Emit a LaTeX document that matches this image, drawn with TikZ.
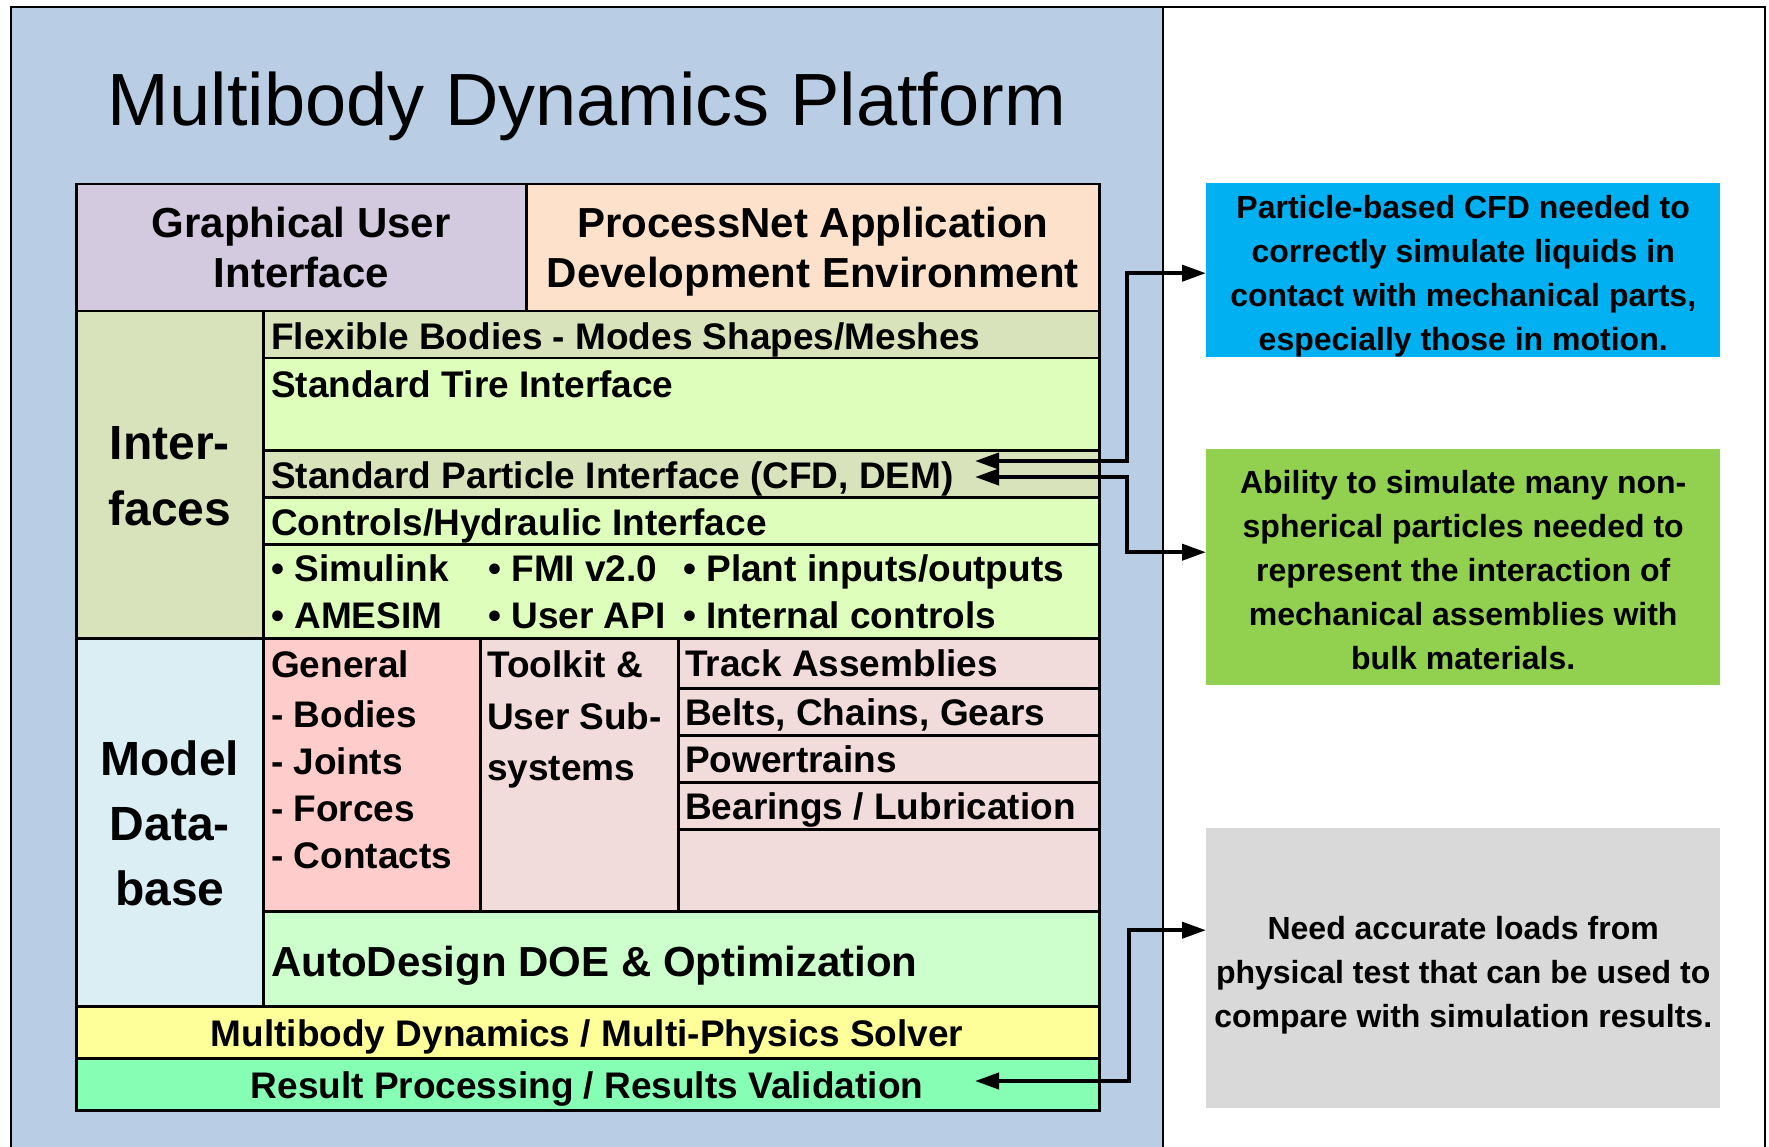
\documentclass[tikz,border=0pt]{standalone}
\usepackage{fontspec}
\setmainfont{Liberation Sans}
\usetikzlibrary{arrows.meta,calc}
\definecolor{panel}{HTML}{B9CDE5}
\definecolor{guic}{HTML}{D3CADF}
\definecolor{pnc}{HTML}{FDE1CA}
\definecolor{olive}{HTML}{D8E3BC}
\definecolor{lime}{HTML}{DDFFBB}
\definecolor{dbblue}{HTML}{DBEEF4}
\definecolor{pinkc}{HTML}{FFCCCC}
\definecolor{rose}{HTML}{F2DCDB}
\definecolor{mint}{HTML}{CCFFCC}
\definecolor{yel}{HTML}{FFFF99}
\definecolor{seag}{HTML}{86FFB4}
\definecolor{cyanb}{HTML}{00B0F0}
\definecolor{greenb}{HTML}{92D050}
\definecolor{grayb}{HTML}{D9D9D9}
\tikzset{
  cell/.style={draw=black, line width=2.5pt, inner sep=0pt, anchor=north west},
  note/.style={inner sep=0pt, anchor=north west},
  notetext/.style={inner sep=0pt, align=center, font=\bfseries\fontsize{32}{44}\selectfont},
  rowtxt/.style={inner sep=0pt, anchor=base west, font=\bfseries\fontsize{37}{44}\selectfont},
  rowtxtc/.style={inner sep=0pt, anchor=base, font=\bfseries\fontsize{37}{44}\selectfont},
  conn/.style={line width=4pt, {Triangle[length=24pt,width=16pt]}-{Triangle[length=24pt,width=16pt]}},
}
\begin{document}
\begin{tikzpicture}[x=1pt,y=-1pt]
\useasboundingbox (0,0) rectangle (1769,1147);
\clip (0,0) rectangle (1769,1147);
\fill[white] (0,0) rectangle (1769,1147);
% outer frame and blue panel
\fill[panel] (11,7) rectangle (1163,1180);
\draw[line width=2pt] (1163,7) -- (1163,1180);
\draw[line width=2pt] (11,7) rectangle (1765,1180);
% title
\node[inner sep=0pt, anchor=base, font=\fontsize{74}{80}\selectfont] (title) at (587,126) {Multibody Dynamics Platform};
% header row
\node[cell, fill=guic, minimum width=450pt, minimum height=127pt] (gui) at (75,183) {};
\node[cell, fill=pnc, minimum width=573pt, minimum height=127pt] (pn) at (525,183) {};
\node[inner sep=0pt, align=center, font=\bfseries\fontsize{42}{50}\selectfont] (guit) at (gui.center) {Graphical User\\Interface};
\node[inner sep=0pt, align=center, font=\bfseries\fontsize{42}{50}\selectfont] (pnt) at ([yshift=-4pt]pn.center) {ProcessNet Application\\Development Environment};
% interfaces
\node[cell, fill=olive, minimum width=187pt, minimum height=327pt] (ifl) at (75,310) {};
\node[inner sep=0pt, align=center, font=\bfseries\fontsize{48}{66}\selectfont] (iflt) at ([yshift=-1pt]ifl.center) {Inter-\\faces};
\node[cell, fill=olive, minimum width=836pt, minimum height=47pt] (flex) at (262,310) {};
\node[cell, fill=lime, minimum width=836pt, minimum height=92pt] (tire) at (262,357) {};
\node[cell, fill=olive, minimum width=836pt, minimum height=47pt] (part) at (262,449) {};
\node[cell, fill=lime, minimum width=836pt, minimum height=47pt] (ctrl) at (262,496) {};
\node[cell, fill=lime, minimum width=836pt, minimum height=94pt] (bul) at (262,543) {};
\node[rowtxt] (flext) at (271,349) {Flexible Bodies - Modes Shapes/Meshes};
\node[rowtxt] (tiret) at (271,397) {Standard Tire Interface};
\node[rowtxt] (partt) at (271,488) {Standard Particle Interface (CFD, DEM)};
\node[rowtxt] (ctrlt) at (271,535) {Controls/Hydraulic Interface};
\node[rowtxt] (b1) at (271,581) {• Simulink};
\node[rowtxt] (b2) at (271,628) {• AMESIM};
\node[rowtxt] (b3) at (488,581) {• FMI v2.0};
\node[rowtxt] (b4) at (488,628) {• User API};
\node[rowtxt] (b5) at (683,581) {• Plant inputs/outputs};
\node[rowtxt] (b6) at (683,628) {• Internal controls};
% model database
\node[cell, fill=dbblue, minimum width=187pt, minimum height=368pt] (mdl) at (75,637) {};
\node[inner sep=0pt, align=center, font=\bfseries\fontsize{48}{65}\selectfont] (mdlt) at ([yshift=-1pt]mdl.center) {Model\\Data-\\base};
\node[cell, fill=pinkc, minimum width=217pt, minimum height=273pt] (gen) at (262,637) {};
\node[cell, fill=rose, minimum width=198pt, minimum height=273pt] (tool) at (479,637) {};
\node[cell, fill=rose, minimum width=421pt, minimum height=50pt] (track) at (677,637) {};
\node[cell, fill=rose, minimum width=421pt, minimum height=47pt] (belts) at (677,687) {};
\node[cell, fill=rose, minimum width=421pt, minimum height=47pt] (power) at (677,734) {};
\node[cell, fill=rose, minimum width=421pt, minimum height=47pt] (bear) at (677,781) {};
\node[cell, fill=rose, minimum width=421pt, minimum height=82pt] (empty) at (677,828) {};
\node[cell, fill=mint, minimum width=836pt, minimum height=95pt] (auto) at (262,910) {};
\foreach \t/\y [count=\i] in {General/677, - Bodies/727, - Joints/774, - Forces/821, - Contacts/868}
  \node[rowtxt] (g\i) at (271,\y) {\t};
\foreach \t/\y [count=\i] in {Toolkit \&/677, User Sub-/729, systems/780}
  \node[rowtxt] (k\i) at (487,\y) {\t};
\node[rowtxt] (trackt) at (685,676) {Track Assemblies};
\node[rowtxt] (beltst) at (685,725) {Belts, Chains, Gears};
\node[rowtxt] (powert) at (685,772) {Powertrains};
\node[rowtxt] (beart) at (685,819) {Bearings / Lubrication};
\node[inner sep=0pt, anchor=base west, font=\bfseries\fontsize{42}{50}\selectfont] (autot) at (271,976) {AutoDesign DOE \& Optimization};
% solver and results
\node[cell, fill=yel, minimum width=1023pt, minimum height=52pt] (solver) at (75,1005) {};
\node[cell, fill=seag, minimum width=1023pt, minimum height=52pt] (result) at (75,1057) {};
\node[rowtxtc] (solvert) at (587,1046) {Multibody Dynamics / Multi-Physics Solver};
\node[rowtxtc] (resultt) at (587,1098) {Result Processing / Results Validation};
% right notes
\node[note, fill=cyanb, minimum width=514pt, minimum height=174pt] (cyan) at (1206,183) {};
\node[notetext] (cyant) at ([yshift=-6pt]cyan.center) {Particle-based CFD needed to\\correctly simulate liquids in\\contact with mechanical parts,\\especially those in motion.};
\node[note, fill=greenb, minimum width=514pt, minimum height=236pt] (green) at (1206,449) {};
\node[notetext] (greent) at ([yshift=-3pt]green.center) {Ability to simulate many non-\\spherical particles needed to\\represent the interaction of\\mechanical assemblies with\\bulk materials.};
\node[note, fill=grayb, minimum width=514pt, minimum height=280pt] (gray) at (1206,828) {};
\node[notetext] (grayt) at ([yshift=-7pt]gray.center) {Need accurate loads from\\physical test that can be used to\\compare with simulation results.};
% connectors
\coordinate (pa) at (975,461);
\coordinate (pb) at (975,477);
\coordinate (pc) at (975,1081);
\coordinate (bx) at (1127,0);
\coordinate (bx2) at (1129,0);
\draw[conn] (pa) -- (pa -| bx) |- ([yshift=-3pt]cyan.west);
\draw[conn] (pb) -- (pb -| bx) |- ([yshift=15pt]green.west);
\draw[conn] (pc) -- (pc -| bx2) |- ([yshift=38pt]gray.west);
\end{tikzpicture}
\end{document}
